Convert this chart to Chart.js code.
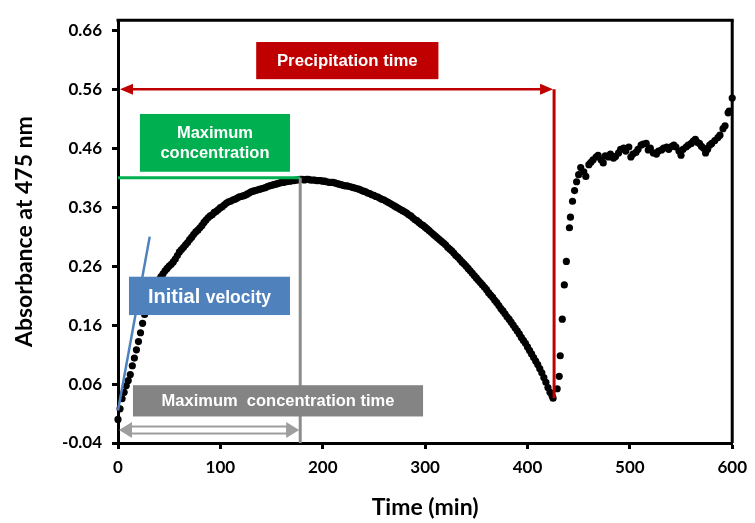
<!DOCTYPE html>
<html>
<head>
<meta charset="utf-8">
<title>Absorbance at 475 nm</title>
<script src="https://cdn.jsdelivr.net/npm/chart.js@4.4.1/dist/chart.umd.min.js"></script>
<style>
    html, body { margin: 0; padding: 0; background: #ffffff; }
    #wrap { width: 755px; height: 523px; }
</style>
</head>
<body>
<div id="wrap"><canvas id="absorbance-chart" width="755" height="523"></canvas></div>
<script>
    // Readings before precipitation: time (min) and absorbance
    var timeBefore = [
        0, 2, 4, 6, 8, 10, 12, 14, 16, 18, 20, 22, 24, 26, 28, 30, 32, 34, 36, 38,
        40, 42, 44, 46, 48, 50, 52, 54, 56, 58, 60, 62, 64, 66, 68, 70, 72, 74, 76, 78,
        80, 82, 84, 86, 88, 90, 92, 94, 96, 98, 100, 102, 104, 106, 108, 110, 112, 114, 116, 118,
        120, 122, 124, 126, 128, 130, 132, 134, 136, 138, 140, 142, 144, 146, 148, 150, 152, 154, 156, 158,
        160, 162, 164, 166, 168, 170, 172, 174, 176, 178, 180, 182, 184, 186, 188, 190, 192, 194, 196, 198,
        200, 202, 204, 206, 208, 210, 212, 214, 216, 218, 220, 222, 224, 226, 228, 230, 232, 234, 236, 238,
        240, 242, 244, 246, 248, 250, 252, 254, 256, 258, 260, 262, 264, 266, 268, 270, 272, 274, 276, 278,
        280, 282, 284, 286, 288, 290, 292, 294, 296, 298, 300, 302, 304, 306, 308, 310, 312, 314, 316, 318,
        320, 322, 324, 326, 328, 330, 332, 334, 336, 338, 340, 342, 344, 346, 348, 350, 352, 354, 356, 358,
        360, 362, 364, 366, 368, 370, 372, 374, 376, 378, 380, 382, 384, 386, 388, 390, 392, 394, 396, 398,
        400, 402, 404, 406, 408, 410, 412, 414, 416, 418, 420, 422, 424, 425
    ];
    var absBefore = [
        0.000, 0.018, 0.035, 0.046, 0.057, 0.066, 0.076, 0.091, 0.104, 0.118, 0.132, 0.147, 0.163, 0.178, 0.191, 0.202, 0.211, 0.219, 0.225, 0.231,
        0.237, 0.242, 0.247, 0.252, 0.256, 0.260, 0.263, 0.267, 0.272, 0.278, 0.284, 0.288, 0.292, 0.296, 0.300, 0.305, 0.309, 0.314, 0.318, 0.321,
        0.325, 0.329, 0.334, 0.338, 0.342, 0.345, 0.347, 0.351, 0.353, 0.356, 0.359, 0.361, 0.364, 0.367, 0.369, 0.370, 0.372, 0.373, 0.375, 0.377,
        0.378, 0.379, 0.380, 0.382, 0.384, 0.386, 0.387, 0.388, 0.389, 0.390, 0.391, 0.392, 0.393, 0.395, 0.396, 0.397, 0.398, 0.399, 0.400, 0.401,
        0.402, 0.402, 0.403, 0.404, 0.404, 0.405, 0.405, 0.406, 0.406, 0.407, 0.407, 0.406, 0.407, 0.407, 0.406, 0.406, 0.406, 0.405, 0.405, 0.405,
        0.404, 0.404, 0.403, 0.402, 0.402, 0.402, 0.401, 0.400, 0.399, 0.398, 0.397, 0.396, 0.396, 0.395, 0.394, 0.393, 0.392, 0.391, 0.390, 0.388,
        0.387, 0.386, 0.384, 0.383, 0.381, 0.380, 0.378, 0.377, 0.375, 0.373, 0.372, 0.370, 0.368, 0.366, 0.364, 0.362, 0.360, 0.358, 0.356, 0.354,
        0.352, 0.350, 0.347, 0.345, 0.342, 0.339, 0.337, 0.334, 0.331, 0.329, 0.326, 0.323, 0.320, 0.317, 0.314, 0.311, 0.308, 0.305, 0.302, 0.299,
        0.296, 0.292, 0.289, 0.286, 0.282, 0.278, 0.275, 0.271, 0.267, 0.264, 0.260, 0.256, 0.252, 0.248, 0.244, 0.240, 0.236, 0.232, 0.228, 0.224,
        0.220, 0.215, 0.211, 0.207, 0.202, 0.198, 0.193, 0.188, 0.184, 0.179, 0.174, 0.170, 0.165, 0.160, 0.155, 0.150, 0.145, 0.139, 0.134, 0.129,
        0.123, 0.117, 0.111, 0.105, 0.099, 0.093, 0.086, 0.079, 0.071, 0.063, 0.054, 0.046, 0.040, 0.036
    ];

    // Readings after precipitation: time (min) and absorbance
    var timeAfter = [
        429, 431, 432, 434, 436, 438, 441, 442, 444, 446, 448, 450, 452, 455, 457, 460, 462, 464, 467, 469,
        472, 474, 476, 479, 481, 484, 486, 489, 491, 494, 496, 499, 501, 503, 506, 508, 511, 513, 516, 518,
        520, 523, 526, 528, 531, 533, 536, 538, 541, 543, 545, 548, 550, 552, 555, 557, 560, 562, 564, 566,
        568, 570, 572, 574, 576, 578, 580, 583, 586, 588, 591, 593, 596, 597, 600
    ];
    var absAfter = [
        0.052, 0.073, 0.108, 0.170, 0.228, 0.268, 0.325, 0.343, 0.370, 0.388, 0.403, 0.415, 0.427, 0.420, 0.412, 0.432, 0.436, 0.440, 0.445, 0.448,
        0.440, 0.435, 0.447, 0.445, 0.450, 0.443, 0.446, 0.452, 0.458, 0.460, 0.455, 0.462, 0.445, 0.450, 0.453, 0.458, 0.465, 0.467, 0.468, 0.457,
        0.460, 0.452, 0.450, 0.455, 0.457, 0.460, 0.462, 0.458, 0.463, 0.465, 0.462, 0.455, 0.448, 0.458, 0.462, 0.465, 0.468, 0.472, 0.475, 0.470,
        0.468, 0.463, 0.460, 0.452, 0.458, 0.465, 0.468, 0.473, 0.478, 0.482, 0.493, 0.498, 0.520, 0.523, 0.545
    ];

    var xTicks = [0, 100, 200, 300, 400, 500, 600];
    var yTicks = [-0.04, 0.06, 0.16, 0.26, 0.36, 0.46, 0.56, 0.66];

    var timeMin = timeBefore.concat(timeAfter);
    var absorbance = absBefore.concat(absAfter);
    var points = timeMin.map(function (t, i) {
        return {x: t, y: absorbance[i]};
    });

    // Colours of the marks drawn over the data
    var RED = "#C00000";
    var GREEN = "#00B050";
    var BLUE = "#4F81BD";
    var GREY_BOX = "#848484";
    var GREY_LINE = "#8C8C8C";
    var GREY_ARROW = "#9E9E9E";
    var BOX_FONT = "'Liberation Sans', Arial, sans-serif";

    // Boxes, lines and arrows, placed in data units
    var markers = {
        id: "markers",
        afterDraw: function (chart) {
            var ctx = chart.ctx;
            var xs = chart.scales.x;
            var ys = chart.scales.y;
            var area = chart.chartArea;
            function px(t) { return xs.getPixelForValue(t); }
            function py(v) { return ys.getPixelForValue(v); }

            function line(x0, y0, x1, y1, color, w) {
                ctx.beginPath();
                ctx.moveTo(x0, y0);
                ctx.lineTo(x1, y1);
                ctx.strokeStyle = color;
                ctx.lineWidth = w;
                ctx.stroke();
            }
            function head(x, y, dir, len, half, color) {
                ctx.beginPath();
                ctx.moveTo(x, y);
                ctx.lineTo(x - dir * len, y - half);
                ctx.lineTo(x - dir * len, y + half);
                ctx.closePath();
                ctx.fillStyle = color;
                ctx.fill();
            }
            function box(t0, t1, v0, v1, color) {
                var x0 = px(t0), x1 = px(t1), y0 = py(v1), y1 = py(v0);
                ctx.fillStyle = color;
                ctx.fillRect(x0, y0, x1 - x0, y1 - y0);
                return {cx: (x0 + x1) / 2, cy: (y0 + y1) / 2};
            }
            function text(str, x, y, size) {
                ctx.font = "bold " + size + "px " + BOX_FONT;
                ctx.fillStyle = "#ffffff";
                ctx.textAlign = "center";
                ctx.textBaseline = "middle";
                ctx.fillText(str, x, y);
            }

            ctx.save();

            // frame: top and right border
            line(area.left - 1.5, area.top, area.right + 1.5, area.top, "#000000", 3);
            line(area.right, area.top, area.right, area.bottom, "#000000", 3);

            // precipitation time
            var yArrow = py(0.56);
            line(px(0) + 10, yArrow, px(426) - 10, yArrow, RED, 2.5);
            head(px(0) + 2, yArrow, -1, 13, 5.5, RED);
            head(px(426) - 1, yArrow, 1, 13, 5.5, RED);
            line(px(426), yArrow, px(426), py(0.036), RED, 3);
            var b1 = box(135, 313, 0.577, 0.64, RED);
            text("Precipitation time", b1.cx, b1.cy + 1, 16.8);

            // maximum concentration
            line(px(0), py(0.41), px(178), py(0.41), GREEN, 3);
            var b2 = box(21.4, 168, 0.42, 0.518, GREEN);
            text("Maximum", b2.cx, b2.cy - 9, 16.5);
            text("concentration", b2.cx, b2.cy + 11, 16.5);

            // maximum concentration time
            line(px(178), py(0.41), px(178), area.bottom, GREY_LINE, 3);
            var b3 = box(14.6, 298, 0.005, 0.058, GREY_BOX);
            text("Maximum  concentration time", b3.cx, b3.cy + 1, 16.5);
            var ya = py(-0.018), xa0 = px(0) + 1, xa1 = px(178) - 1;
            ctx.fillStyle = "#ffffff";
            ctx.fillRect(xa0 + 12, ya - 3.5, xa1 - xa0 - 24, 7);
            ctx.strokeStyle = GREY_ARROW;
            ctx.lineWidth = 2;
            ctx.strokeRect(xa0 + 12, ya - 3.5, xa1 - xa0 - 24, 7);
            head(xa0, ya, -1, 13, 8, GREY_ARROW);
            head(xa1, ya, 1, 13, 8, GREY_ARROW);

            // initial velocity
            line(px(0), py(0.015), px(31), py(0.31), BLUE, 2.5);
            var b4 = box(10.7, 168, 0.177, 0.242, BLUE);
            ctx.font = "bold 20px " + BOX_FONT;
            var w1 = ctx.measureText("Initial ").width;
            ctx.font = "bold 17.5px " + BOX_FONT;
            var w2 = ctx.measureText("velocity").width;
            var xs0 = b4.cx - (w1 + w2) / 2;
            ctx.fillStyle = "#ffffff";
            ctx.textAlign = "left";
            ctx.textBaseline = "alphabetic";
            ctx.font = "bold 20px " + BOX_FONT;
            ctx.fillText("Initial ", xs0, b4.cy + 7);
            ctx.font = "bold 17.5px " + BOX_FONT;
            ctx.fillText("velocity", xs0 + w1, b4.cy + 7);

            ctx.restore();
        }
    };

    Chart.defaults.font.family = "Lato, 'Open Sans', sans-serif";
    Chart.defaults.color = "#000000";

    var ctx1 = document.getElementById("absorbance-chart").getContext("2d");
    var myChart1 = new Chart(ctx1, {
        type: "scatter",
        data: {
            datasets: [{
                label: "Absorbance",
                data: points,
                backgroundColor: "#000000",
                borderColor: "#000000",
                borderWidth: 0,
                pointRadius: 3.6,
                pointHoverRadius: 3.6,
                clip: false
            }]
        },
        options: {
            responsive: false,
            animation: false,
            devicePixelRatio: 1,
            layout: {
                padding: {left: 0, right: 19, top: 13, bottom: 0}
            },
            plugins: {
                legend: {display: false},
                tooltip: {enabled: false}
            },
            scales: {
                x: {
                    type: "linear",
                    min: 0,
                    max: 600,
                    afterBuildTicks: function (scale) {
                        scale.ticks = xTicks.map(function (v) { return {value: v}; });
                    },
                    afterFit: function (scale) {
                        scale.height = 80;
                    },
                    ticks: {
                        font: {size: 17, weight: "bold"},
                        color: "#000000",
                        padding: 8,
                        maxRotation: 0
                    },
                    grid: {
                        drawOnChartArea: false,
                        drawTicks: true,
                        tickLength: 6,
                        tickWidth: 3,
                        tickColor: "#000000"
                    },
                    border: {color: "#000000", width: 3},
                    title: {
                        display: true,
                        text: "Time (min)",
                        font: {size: 23, weight: "bold"},
                        color: "#000000",
                        padding: {top: 0, bottom: 2}
                    }
                },
                y: {
                    type: "linear",
                    min: -0.04,
                    max: 0.677,
                    afterBuildTicks: function (scale) {
                        scale.ticks = yTicks.map(function (v) { return {value: v}; });
                    },
                    afterFit: function (scale) {
                        scale.width = 118;
                    },
                    ticks: {
                        font: {size: 17, weight: "bold"},
                        color: "#000000",
                        padding: 10,
                        callback: function (value) {
                            return Number(value).toFixed(2);
                        }
                    },
                    grid: {
                        drawOnChartArea: false,
                        drawTicks: true,
                        tickLength: 6,
                        tickWidth: 3,
                        tickColor: "#000000"
                    },
                    border: {color: "#000000", width: 3},
                    title: {
                        display: true,
                        text: "Absorbance at 475 nm",
                        font: {size: 23, weight: "bold"},
                        color: "#000000",
                        padding: {top: 11, bottom: 0}
                    }
                }
            }
        },
        plugins: [markers]
    });
</script>
</body>
</html>
